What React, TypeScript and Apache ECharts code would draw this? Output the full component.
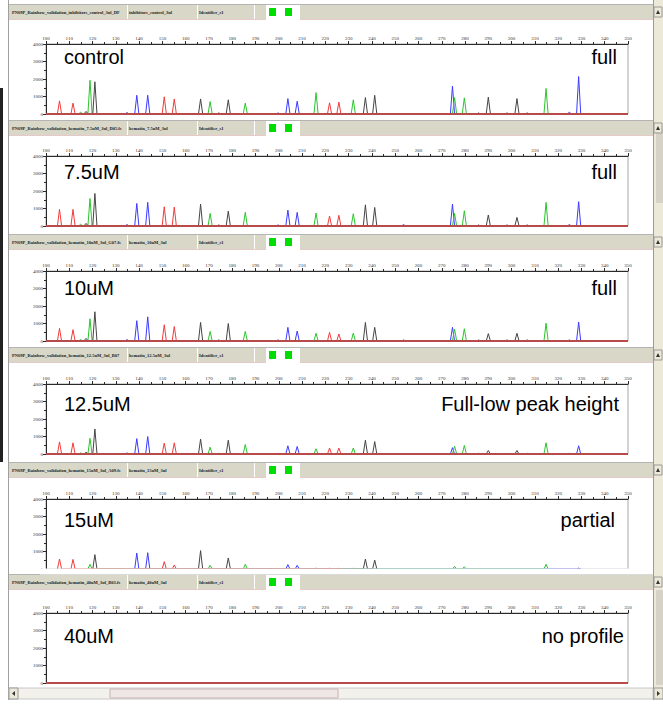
import React, { useEffect, useRef } from "react";
import * as echarts from "echarts";

// ---------- data ----------
const panelNames = ["control", "7.5uM", "10uM", "12.5uM", "15uM", "40uM"];
const panelVerdicts = ["full", "full", "full", "Full-low peak height", "partial", "no profile"];
const sampleFiles = [
  "PN69P_Rainbow_validation_inhibitors_control_3ul_DF",
  "PN69P_Rainbow_validation_hematin_7.5uM_3ul_D05.fs",
  "PN69P_Rainbow_validation_hematin_10uM_3ul_G07.fs",
  "PN69P_Rainbow_validation_hematin_12.5uM_3ul_B07",
  "PN69P_Rainbow_validation_hematin_15uM_3ul_A09.fs",
  "PN69P_Rainbow_validation_hematin_40uM_3ul_B03.fs",
];
const sampleNames = [
  "inhibitors_control_3ul",
  "hematin_7.5uM_3ul",
  "hematin_10uM_3ul",
  "hematin_12.5uM_3ul",
  "hematin_15uM_3ul",
  "hematin_40uM_3ul",
];
const identifierText = "Identifier_s1";

const sizeMin = 100;
const sizeMax = 350;
const sizeStep = 10;
const rfuMin = 0;
const rfuMax = 4000;
const rfuStep = 1000;

// peak positions (bp) per dye
const bluePositions = [134.8, 139.0, 143.7, 199.7, 203.9, 207.9, 253.6, 274.6, 324.8, 328.8];
const greenPositions = [114.9, 118.9, 170.5, 185.6, 216.0, 232.0, 275.5, 279.7, 314.8];
const blackPositions = [117.2, 121.0, 166.4, 174.2, 178.3, 237.2, 241.2, 285.8, 290.0, 298.0, 302.3, 306.7];
const redPositions = [105.8, 111.6, 150.8, 155.1, 221.8, 225.8];

// peak heights (RFU), one row per panel
const blueHeights = [
  [80, 1070, 1070, 60, 880, 730, 0, 1600, 100, 2140],
  [80, 1290, 1350, 60, 910, 780, 80, 1250, 80, 1390],
  [80, 1160, 1380, 60, 780, 570, 60, 780, 60, 1080],
  [60, 880, 1000, 40, 470, 430, 0, 360, 40, 470],
  [0, 910, 930, 0, 250, 210, 0, 0, 0, 50],
  [0, 0, 0, 0, 0, 0, 0, 0, 0, 0],
];
const greenHeights = [
  [100, 1930, 710, 620, 1220, 810, 940, 920, 1460],
  [100, 1570, 720, 780, 740, 700, 720, 870, 1350],
  [80, 1270, 550, 550, 440, 450, 680, 700, 1020],
  [60, 900, 390, 540, 300, 340, 450, 490, 640],
  [0, 270, 210, 270, 50, 40, 150, 130, 270],
  [0, 0, 0, 0, 0, 0, 0, 0, 0],
];
const blackHeights = [
  [150, 1840, 860, 60, 810, 940, 1070, 60, 960, 60, 880, 60],
  [150, 1860, 1250, 60, 850, 1210, 1060, 60, 630, 60, 490, 60],
  [150, 1670, 1060, 60, 1000, 1060, 780, 60, 420, 60, 440, 60],
  [100, 1430, 850, 40, 790, 790, 710, 40, 200, 40, 200, 40],
  [0, 820, 1050, 0, 630, 570, 510, 0, 0, 0, 0, 0],
  [0, 0, 0, 0, 0, 0, 0, 0, 0, 0, 0, 0],
];
const redHeights = [
  [750, 620, 980, 860, 640, 680],
  [950, 950, 1100, 1080, 570, 610],
  [720, 650, 930, 830, 490, 400],
  [690, 640, 620, 640, 340, 340],
  [570, 550, 420, 230, 40, 40],
  [0, 0, 0, 0, 0, 0],
];

// ---------- layout / style ----------
const W = 663;
const H = 708;
const gridTops = [44, 156, 271, 384, 499, 613];
const headerTops = [5, 121, 235, 348, 463, 575];
const labelYs = [57, 172, 288, 404, 520, 636];
const verdictRight = [617, 617, 617, 619, 615, 624];
const showBaseline = [true, true, true, true, false, true];
const HALF_WIDTH = 0.9;

const dyes = [
  { name: "blue", color: "#3b3bff", pos: bluePositions, h: blueHeights },
  { name: "green", color: "#2ec42e", pos: greenPositions, h: greenHeights },
  { name: "black", color: "#454545", pos: blackPositions, h: blackHeights },
  { name: "red", color: "#f03c3c", pos: redPositions, h: redHeights },
];

function peaksToLine(positions: number[], heights: number[]) {
  const pts: number[][] = [];
  positions.forEach((p, i) => {
    const h = heights[i];
    if (!h) return;
    pts.push([p - HALF_WIDTH, 0], [p, h], [p + HALF_WIDTH, 0]);
  });
  pts.sort((a, b) => a[0] - b[0]);
  return pts;
}

const tinyText = (text: string, x: number, y: number, width: number) => ({
  type: "text",
  x,
  y,
  style: {
    text,
    width,
    overflow: "truncate",
    ellipsis: "",
    fontSize: 4.5,
    fontWeight: "bold",
    fontFamily: "Liberation Serif",
    fill: "#222",
    verticalAlign: "middle",
  },
});

function buildOption() {
  const grid: any[] = [];
  const xAxis: any[] = [];
  const yAxis: any[] = [];
  const series: any[] = [];
  const graphic: any[] = [];

  // window chrome
  graphic.push(
    { type: "rect", shape: { x: 0, y: 0, width: W, height: H }, style: { fill: "#ffffff" }, z: -10 },
    { type: "rect", shape: { x: 0, y: 88, width: 3, height: 374 }, style: { fill: "#222" } },
    { type: "line", shape: { x1: 8.5, y1: 0, x2: 8.5, y2: 700 }, style: { stroke: "#a0a0a0", lineWidth: 1 } },
    { type: "rect", shape: { x: 653, y: 0, width: 10, height: 700 }, style: { fill: "#ece9d8" } },
    { type: "line", shape: { x1: 653.5, y1: 0, x2: 653.5, y2: 700 }, style: { stroke: "#9a9a9a", lineWidth: 1 } },
    { type: "rect", shape: { x: 656, y: 128, width: 7, height: 75 }, style: { fill: "#d6d3c6" } },
    { type: "rect", shape: { x: 656, y: 590, width: 7, height: 95 }, style: { fill: "#d6d3c6" } },
    // bottom scrollbar
    { type: "rect", shape: { x: 9, y: 688, width: 644, height: 11 }, style: { fill: "#f2f1ec", stroke: "#c8c8c8", lineWidth: 1 } },
    { type: "rect", shape: { x: 110, y: 689, width: 228, height: 9 }, style: { fill: "#efe6e6", stroke: "#c9b6b6", lineWidth: 1 } },
    { type: "rect", shape: { x: 9, y: 688, width: 9, height: 11 }, style: { fill: "#ece9d8", stroke: "#999", lineWidth: 1 } },
    { type: "polygon", shape: { points: [[15, 691], [15, 696], [12, 693.5]] }, style: { fill: "#333" } },
    { type: "rect", shape: { x: 654, y: 688, width: 9, height: 11 }, style: { fill: "#ece9d8", stroke: "#999", lineWidth: 1 } },
    { type: "polygon", shape: { points: [[657, 691], [657, 696], [660, 693.5]] }, style: { fill: "#333" } }
  );

  for (let i = 0; i < 6; i++) {
    const ht = headerTops[i];
    // header bar
    graphic.push(
      { type: "line", shape: { x1: 9, y1: ht - 0.5, x2: 653, y2: ht - 0.5 }, style: { stroke: "#b4b4b4", lineWidth: 1 } },
      { type: "rect", shape: { x: 9, y: ht, width: 644, height: 14 }, style: { fill: "#d9d7c8" } },
      { type: "line", shape: { x1: 9, y1: ht + 14.5, x2: 653, y2: ht + 14.5 }, style: { stroke: "#e6c9c9", lineWidth: 1 } },
      { type: "line", shape: { x1: 127.5, y1: ht, x2: 127.5, y2: ht + 14 }, style: { stroke: "#ffffff", lineWidth: 1 } },
      { type: "line", shape: { x1: 197.5, y1: ht, x2: 197.5, y2: ht + 14 }, style: { stroke: "#ffffff", lineWidth: 1 } },
      { type: "line", shape: { x1: 254.5, y1: ht, x2: 254.5, y2: ht + 14 }, style: { stroke: "#ffffff", lineWidth: 1 } },
      { type: "rect", shape: { x: 266, y: ht, width: 34, height: 16 }, style: { fill: "#ffffff" } },
      { type: "rect", shape: { x: 269, y: ht + 3, width: 7, height: 8 }, style: { fill: "#00dd00" } },
      { type: "rect", shape: { x: 285, y: ht + 3, width: 7, height: 8 }, style: { fill: "#00dd00" } },
      tinyText(sampleFiles[i], 12, ht + 7, 113),
      tinyText(sampleNames[i], 129, ht + 7, 66),
      tinyText(identifierText, 199, ht + 7, 52),
      { type: "rect", shape: { x: 654, y: ht + 2, width: 8, height: 10 }, style: { fill: "#ece9d8", stroke: "#999", lineWidth: 1 } },
      { type: "polygon", shape: { points: [[656, ht + 9], [660, ht + 9], [658, ht + 5]] }, style: { fill: "#333" } }
    );
    // big annotations
    graphic.push(
      {
        type: "text", x: 64, y: labelYs[i], z: 50,
        style: { text: panelNames[i], fontSize: 20, fontFamily: "Liberation Sans", fill: "#000", verticalAlign: "middle", align: "left" },
      },
      {
        type: "text", x: verdictRight[i], y: labelYs[i], z: 50,
        style: { text: panelVerdicts[i], fontSize: 20, fontFamily: "Liberation Sans", fill: "#000", verticalAlign: "middle", align: "right" },
      }
    );

    grid.push({
      left: 46, width: 582, top: gridTops[i], height: 70,
      show: true, borderColor: "#a8a8a8", borderWidth: 1, backgroundColor: "transparent",
    });
    xAxis.push({
      type: "value", gridIndex: i, position: "top", min: sizeMin, max: sizeMax, interval: sizeStep,
      axisLine: { show: true, onZero: false, lineStyle: { color: "#2a2a2a", width: 1 } },
      axisTick: { show: true, length: 3, lineStyle: { color: "#2a2a2a" } },
      minorTick: { show: true, splitNumber: 2, length: 2, lineStyle: { color: "#2a2a2a" } },
      axisLabel: { fontSize: 5, color: "#333", margin: 3, fontFamily: "Liberation Serif", formatter: (v: number) => String(v) },
      splitLine: { show: false },
    });
    yAxis.push({
      type: "value", gridIndex: i, min: rfuMin, max: rfuMax, interval: rfuStep,
      axisLine: { show: true, onZero: false, lineStyle: { color: "#2a2a2a", width: 1 } },
      axisTick: { show: true, length: 3, lineStyle: { color: "#2a2a2a" } },
      minorTick: { show: true, splitNumber: 2, length: 2, lineStyle: { color: "#2a2a2a" } },
      axisLabel: { fontSize: 5, color: "#333", margin: 3, fontFamily: "Liberation Serif", formatter: (v: number) => String(v) },
      splitLine: { show: false },
    });

    dyes.forEach((d) => {
      series.push({
        type: "line", name: d.name + i, xAxisIndex: i, yAxisIndex: i,
        data: peaksToLine(d.pos, d.h[i]),
        showSymbol: false, symbol: "none", silent: true, clip: true,
        lineStyle: { color: d.color, width: 1 }, itemStyle: { color: d.color }, z: 2,
      });
    });
    if (showBaseline[i]) {
      series.push({
        type: "line", name: "baseline" + i, xAxisIndex: i, yAxisIndex: i,
        data: [[sizeMin, rfuMin], [sizeMax, rfuMin]],
        showSymbol: false, symbol: "none", silent: true,
        lineStyle: { color: "#b84a4a", width: 2 }, z: 4,
      });
    }
  }

  // panel 5 is scrolled: its baseline is hidden
  graphic.push({ type: "rect", z: 100, shape: { x: 40, y: 568.5, width: 613, height: 6 }, style: { fill: "#ffffff" } });

  return { animation: false, backgroundColor: "#ffffff", grid, xAxis, yAxis, series, graphic };
}

export default function App() {
  const ref = useRef<HTMLDivElement>(null);
  useEffect(() => {
    if (!ref.current) return;
    const chart = echarts.init(ref.current, undefined, { renderer: "svg" });
    chart.setOption(buildOption() as any);
    return () => chart.dispose();
  }, []);
  return <div ref={ref} style={{ position: "fixed", left: 0, top: 0, width: W, height: H, background: "#fff" }} />;
}
